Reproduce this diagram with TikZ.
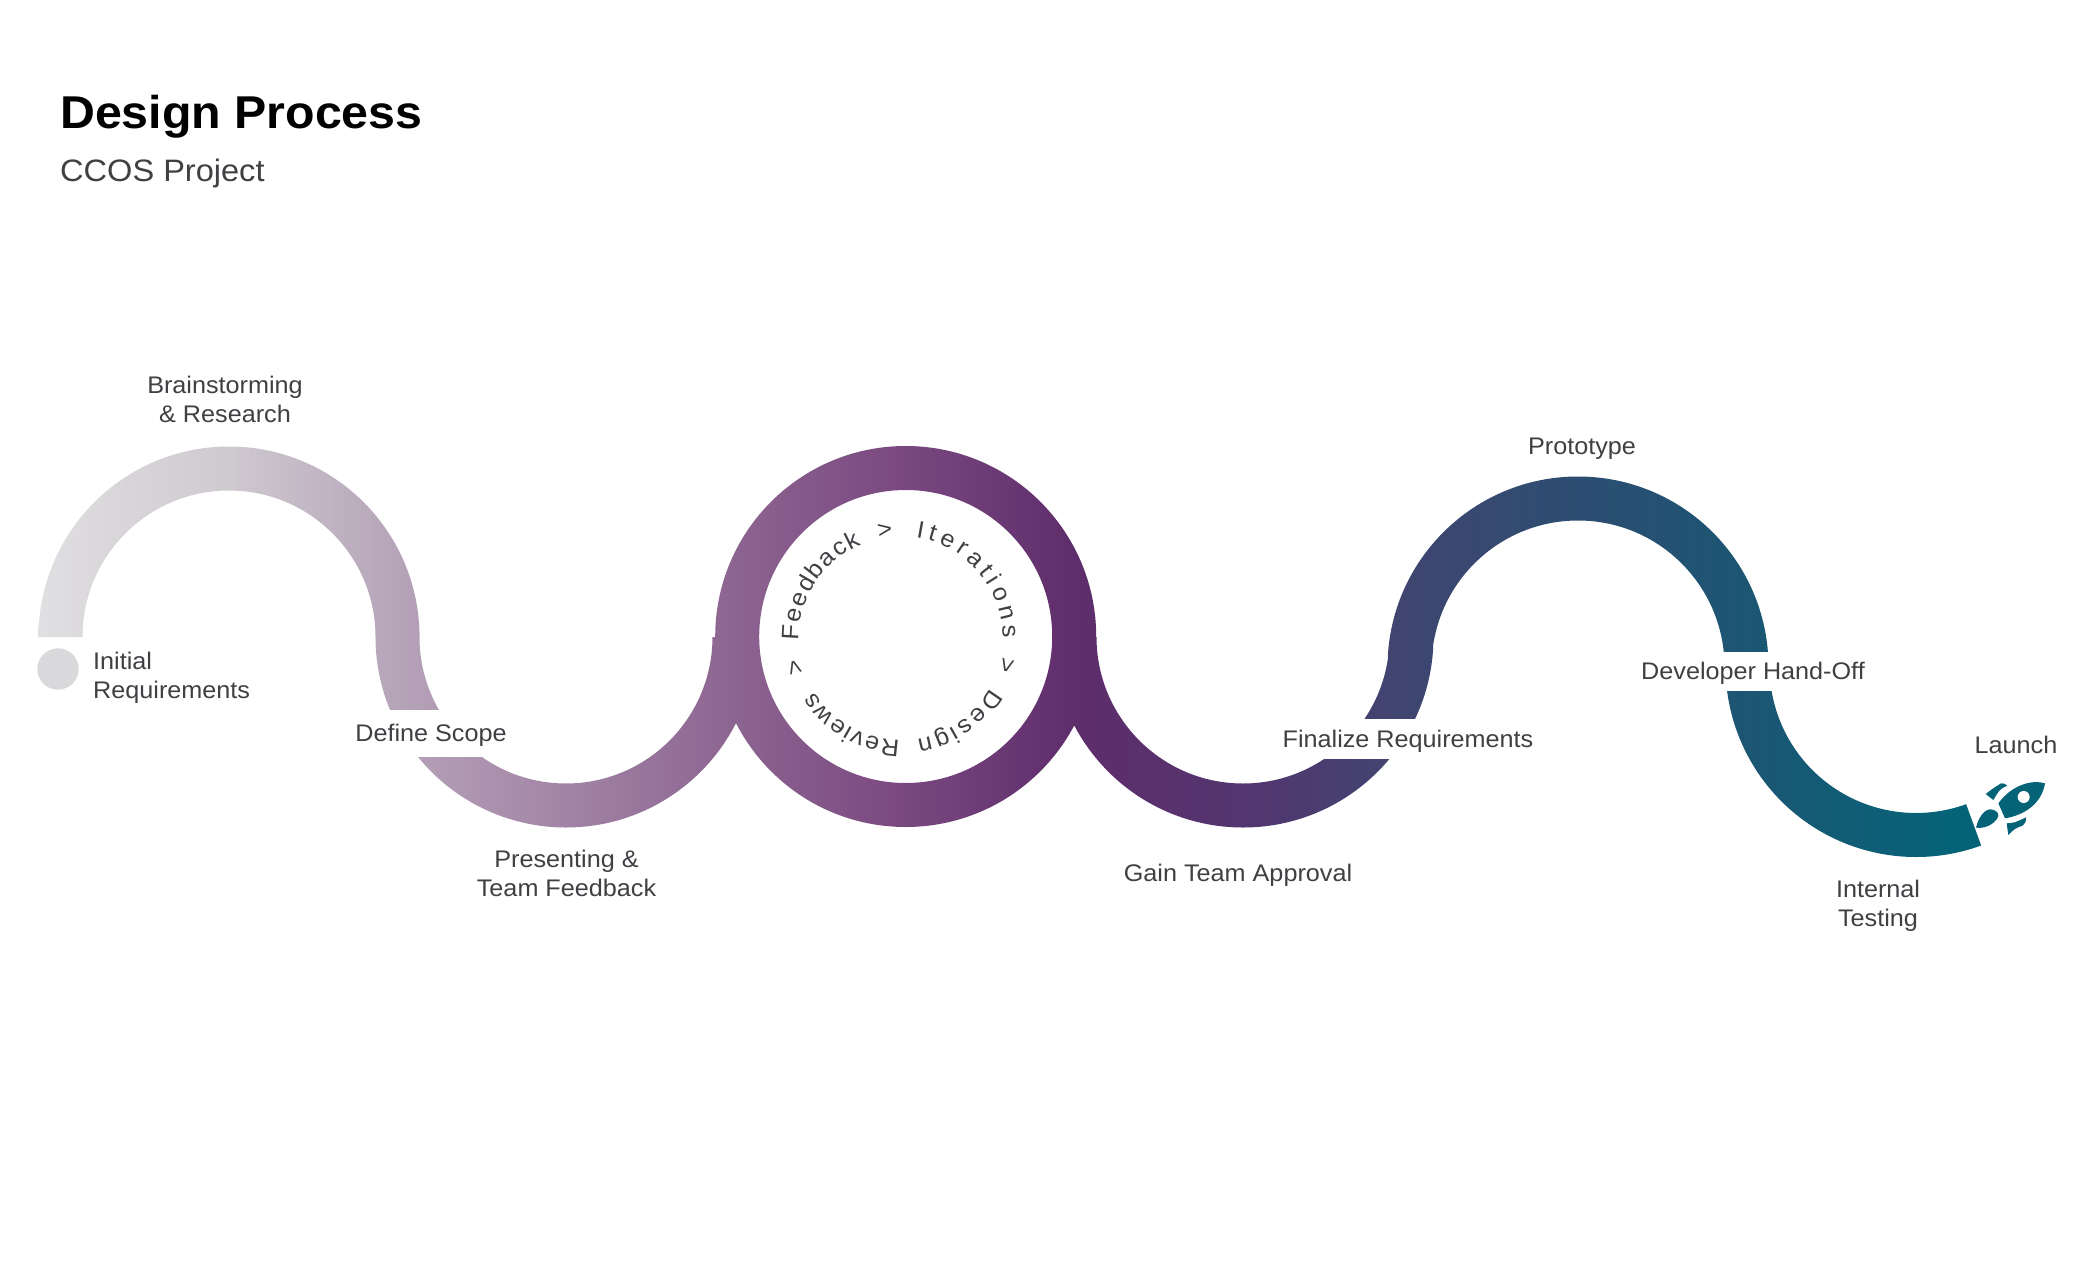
\documentclass[tikz,border=0pt]{standalone}
\usepackage{fontspec}
\setmainfont[FakeStretch=1.05]{Liberation Sans}
\usetikzlibrary{calc}
\usetikzlibrary{decorations.text}

\definecolor{labelgray}{HTML}{404044}
\definecolor{dotgray}{HTML}{D9D8DA}
\definecolor{rocketteal}{HTML}{056378}
\definecolor{bandA}{HTML}{E0DFE1}
\definecolor{bandB}{HTML}{CFC9D0}
\definecolor{bandC}{HTML}{B5A3B8}
\definecolor{bandD}{HTML}{A88CAB}
\definecolor{bandE}{HTML}{8E6792}
\definecolor{bandF}{HTML}{7A4880}
\definecolor{bandG}{HTML}{5E2D6B}
\definecolor{bandH}{HTML}{53356F}
\definecolor{bandI}{HTML}{404570}
\definecolor{bandJ}{HTML}{2C4D71}
\definecolor{bandK}{HTML}{1B5673}
\definecolor{bandL}{HTML}{056378}

% 25bp is x=0 and 75bp is x=2100
\pgfdeclarehorizontalshading{bandshade}{100bp}{color(0bp)=(bandA);
  color(25.9bp)=(bandA); color(30.5bp)=(bandB); color(34.5bp)=(bandC);
  color(37.4bp)=(bandD); color(42.1bp)=(bandE); color(46.5bp)=(bandF);
  color(50.6bp)=(bandG); color(54.6bp)=(bandH); color(58.3bp)=(bandI);
  color(62.6bp)=(bandJ); color(66.7bp)=(bandK); color(71.4bp)=(bandL);
  color(100bp)=(bandL)}

\newcommand{\loopfont}{\fontsize{24}{29}\selectfont}

\tikzset{
  steplabel/.style={font=\fontsize{24}{29}\selectfont,text=labelgray,align=center,inner sep=0pt},
  oneline/.style={steplabel,text height=20pt,text depth=4pt},
  cutlabel/.style={oneline,fill=white,minimum height=#1,inner xsep=3pt},
  looptext/.style={decorate,decoration={text along path,text={|\loopfont|#1},text align={fit to path},text color=labelgray}},
  loopmark/.style={decorate,decoration={text along path,text={|\loopfont|#1},text align=center,text color=labelgray}}
}

\begin{document}
\begin{tikzpicture}[x=1pt,y=-1pt]

\useasboundingbox (0,0) rectangle (2100,1268);
\fill[white] (0,0) rectangle (2100,1268);

\coordinate (LOOP) at (901,638.5);

%%%%%%%%%%%%%%%%%%%
% title
\node[anchor=west,inner sep=0pt,font=\fontsize{46}{50}\selectfont\bfseries] at (60,117) (title) {Design Process};
\node[anchor=west,inner sep=0pt,font=\fontsize{31}{36}\selectfont,text=labelgray] at (60,173.5) (subtitle) {CCOS Project};

%%%%%%%%%%%%%%%%%%%
% draw band
\begin{scope}
\clip \foreach \cx/\cy/\from/\to in {229/637/180/360, 566/637/0/182, 905.7/636.5/0/360, 1243/637/3/180, 1578/667/183/360, 1916/666.5/70/182}
  { (\cx,\cy) ++(\from:190.5) arc[start angle=\from,end angle=\to,radius=190.5]
    -- ($(\cx,\cy)+(\to:146.5)$) arc[start angle=\to,end angle=\from,radius=146.5] -- cycle };
\shade[shading=bandshade] (0,400) rectangle (2100,900);
\end{scope}

\fill[dotgray] (58,669) circle[radius=20.7];

%%%%%%%%%%%%%%%%%%%
% draw labels
\node[steplabel] at (225,399) (brainstorm) {Brainstorming\\\& Research};
\node[steplabel,align=left,anchor=west] at (93,678) (initial) {Initial\\Requirements};
\node[cutlabel=47pt] at (431,733.5) (scope) {Define Scope};
\node[steplabel] at (566.5,873) (presenting) {Presenting \&\\Team Feedback};
\node[oneline] at (1238,873) (approval) {Gain Team Approval};
\node[cutlabel=40pt] at (1408,739) (finalize) {Finalize Requirements};
\node[oneline] at (1582,446) (prototype) {Prototype};
\node[cutlabel=39pt] at (1753,671.5) (handoff) {Developer Hand-Off};
\node[steplabel] at (1878,905.5) (testing) {Internal\\Testing};
\node[oneline] at (2016,745) (launch) {Launch};

%%%%%%%%%%%%%%%%%%%
% text inside the loop
\path[looptext={Feedback}] (LOOP) ++(179:102) arc[start angle=179,end angle=247,radius=102];
\path[loopmark={>}] (LOOP) ++(246.5:102) arc[start angle=246.5,end angle=276.5,radius=102];
\path[looptext={Iterations}] (LOOP) ++(278.4:102) arc[start angle=278.4,end angle=360,radius=102];
\path[loopmark={>}] (LOOP) ++(-0.7:102) arc[start angle=-0.7,end angle=29.3,radius=102];
\path[looptext={Design}] (LOOP) ++(29.3:102) arc[start angle=29.3,end angle=81,radius=102];
\path[looptext={Reviews}] (LOOP) ++(90.6:102) arc[start angle=90.6,end angle=148.5,radius=102];
\path[loopmark={>}] (LOOP) ++(149.5:102) arc[start angle=149.5,end angle=179.5,radius=102];

%%%%%%%%%%%%%%%%%%%
% draw rocket
\begin{scope}[shift={(1900,720)},x=0.3333pt,y=-0.3333pt]
\fill[rocketteal] (435,190) .. controls (395,178) and (335,195) .. (295,250) -- (315,295) .. controls (375,285) and (425,250) .. (435,190) -- cycle;
\fill[white] (371,231) circle[radius=18];
\fill[rocketteal] (257,222) .. controls (275,208) .. (303,190) .. controls (312,190) .. (322,197) .. controls (300,207) .. (280,240) -- cycle;
\fill[rocketteal] (320,310) .. controls (345,308) .. (378,292) .. controls (378,305) .. (368,317) .. controls (345,325) .. (325,345) -- cycle;
\fill[rocketteal] (228,323) .. controls (235,295) and (250,270) .. (270,268) .. controls (285,268) and (297,278) .. (295,288) .. controls (290,305) and (262,328) .. (228,323) -- cycle;
\end{scope}

\end{tikzpicture}
\end{document}
